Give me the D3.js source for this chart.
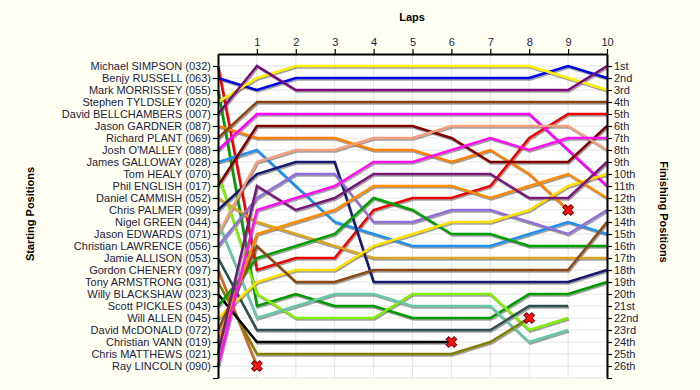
<!DOCTYPE html>
<html><head><meta charset="utf-8">
<script src="https://cdn.jsdelivr.net/npm/d3@7"></script>
<style>
html,body{margin:0;padding:0;background:#FFFFF2;}
svg{display:block;font-family:"Liberation Sans",Arial,sans-serif;}
</style></head><body>
<svg id="c" width="700" height="390"></svg>
<script>
// ---- data ----
const drivers = [
  "Michael SIMPSON (032)","Benjy RUSSELL (063)","Mark MORRISSEY (055)","Stephen TYLDSLEY (020)",
  "David BELLCHAMBERS (007)","Jason GARDNER (087)","Richard PLANT (069)","Josh O'MALLEY (088)",
  "James GALLOWAY (028)","Tom HEALY (070)","Phil ENGLISH (017)","Daniel CAMMISH (052)",
  "Chris PALMER (099)","Nigel GREEN (044)","Jason EDWARDS (071)","Christian LAWRENCE (056)",
  "Jamie ALLISON (053)","Gordon CHENERY (097)","Tony ARMSTRONG (031)","Willy BLACKSHAW (023)",
  "Scott PICKLES (043)","Will ALLEN (045)","David McDONALD (072)","Christian VANN (019)",
  "Chris MATTHEWS (021)","Ray LINCOLN (090)"
];
const lapTicks = [1,2,3,4,5,6,7,8,9,10];
const finishLabels = ["1st","2nd","3rd","4th","5th","6th","7th","8th","9th","10th","11th","12th","13th",
  "14th","15th","16th","17th","18th","19th","20th","21st","22nd","23rd","24th","25th","26th"];
// position of each driver at lap 0..n (start position first)
const positions = [
  [1,18,17,17,13,12,12,11,7,5,5],
  [2,3,2,2,2,2,2,2,2,1,2],
  [3,21,20,21,21,22,22,22,20,20,19],
  [4,2,1,1,1,1,1,1,1,2,3],
  [5,1,3,3,3,3,3,3,3,3,1],
  [6,7,7,7,8,8,9,8,10,13],
  [7,4,4,4,4,4,4,4,4,4,4],
  [8,5,5,5,5,5,5,5,5,8,11],
  [9,8,11,14,15,16,16,16,15,14,15],
  [10,20,22,22,22,20,20,20,23,22],
  [11,6,6,6,6,6,7,9,9,9,6],
  [12,14,15,16,17,17,17,17,17,17,17],
  [13,10,9,9,19,19,19,19,19,19,18],
  [14,22,21,20,20,21,21,21,24,23],
  [15,9,8,8,7,7,6,6,6,6,8],
  [16,12,10,10,14,14,13,13,14,15,13],
  [17,23,23,23,23,23,23,23,21,21],
  [18,26],
  [19,25,25,25,25,25,25,24,22],
  [20,24,24,24,24,24,24],
  [21,17,16,15,12,13,15,15,16,16,16],
  [22,19,18,18,16,15,14,14,13,11,10],
  [23,16,19,19,18,18,18,18,18,18,14],
  [24,15,14,13,11,11,11,12,11,10,12],
  [25,11,13,12,10,10,10,10,12,12,9],
  [26,13,12,11,9,9,8,7,8,7,7]
];
// drivers retired (marker at their last point)
const retired = ["Jason GARDNER (087)","Gordon CHENERY (097)","Willy BLACKSHAW (023)","Tony ARMSTRONG (031)"];
const colors = ["#EE0000","#0000E6","#009A00","#FFEE00","#7A0A7A","#FF8000","#8B4513","#FF00FF",
  "#2090F0","#80F000","#800000","#DAA520","#1A1A70","#66C8A8","#F4A07C","#9070D8",
  "#2F4F4F","#D2691E","#808000","#000000","#00A000","#FFE000","#8B4A13","#FF8C00",
  "#781878","#FF10F0"];

// ---- chart ----
const svg = d3.select("#c");
const x = d3.scaleLinear().domain([0,10]).range([218,607]);
const y = d3.scaleLinear().domain([0,27]).range([54,378]);

svg.append("rect").attr("x",x(0)).attr("y",y(0)).attr("width",x(10)-x(0)).attr("height",y(27)-y(0)).attr("fill","#ffffff");

const grid = svg.append("g").attr("stroke","#e4e4e4").attr("stroke-width",1);
grid.selectAll("line.h").data(d3.range(1,28)).join("line")
  .attr("x1",x(0)).attr("x2",x(10)).attr("y1",d=>y(d)).attr("y2",d=>y(d));
grid.selectAll("line.v").data(lapTicks).join("line")
  .attr("y1",y(0)).attr("y2",y(27)).attr("x1",d=>x(d)).attr("x2",d=>x(d));

const line = d3.line().x((d,i)=>x(i)).y(d=>y(d));
const shadows = svg.append("g").attr("transform","translate(1,1.5)");
const lines = svg.append("g");
positions.forEach((p,i)=>{
  shadows.append("path").attr("d",line(p)).attr("fill","none").attr("stroke","#555").attr("stroke-opacity",0.55).attr("stroke-width",2.5);
});
positions.forEach((p,i)=>{
  lines.append("path").attr("d",line(p)).attr("fill","none").attr("stroke",colors[i]).attr("stroke-width",2.5);
});

// retirement markers
const xSym = d3.symbol().type(d3.symbolCross).size(70);
retired.forEach(name=>{
  const i = drivers.indexOf(name); const p = positions[i];
  svg.append("path").attr("d",xSym())
    .attr("transform",`translate(${x(p.length-1)},${y(p[p.length-1])}) rotate(45)`)
    .attr("fill","#FF1010").attr("stroke","#700000").attr("stroke-width",1);
});

// axes
const axisStyle = g=>{
  g.selectAll("path.domain").attr("stroke","#000").attr("stroke-width",2);
  g.selectAll(".tick line").attr("stroke","#000").attr("stroke-width",1.2);
  g.selectAll("text").attr("fill","#1c1c3c").attr("font-size",11).attr("font-family","'Liberation Sans',Arial,sans-serif");
};
svg.append("g").attr("transform",`translate(${x(0)},0)`)
  .call(d3.axisLeft(y).tickValues(d3.range(1,28)).tickSize(5).tickSizeOuter(0).tickPadding(2)
    .tickFormat(d=>drivers[d-1]||"")).call(axisStyle);
svg.append("g").attr("transform",`translate(${x(10)},0)`)
  .call(d3.axisRight(y).tickValues(d3.range(1,28)).tickSize(5).tickSizeOuter(0).tickPadding(2)
    .tickFormat(d=>finishLabels[d-1]||"")).call(axisStyle);
svg.append("g").attr("transform",`translate(0,${y(0)})`)
  .call(d3.axisTop(x).tickValues(lapTicks).tickSize(5).tickSizeOuter(0).tickPadding(3)).call(axisStyle);

// titles
svg.append("text").attr("x",412).attr("y",21).attr("text-anchor","middle")
  .attr("font-weight","bold").attr("font-size",11).attr("fill","#000").text("Laps");
svg.append("text").attr("transform","translate(34,214) rotate(-90)").attr("text-anchor","middle")
  .attr("font-weight","bold").attr("font-size",11).attr("fill","#000").text("Starting Positions");
svg.append("text").attr("transform","translate(660,212) rotate(90)").attr("text-anchor","middle")
  .attr("font-weight","bold").attr("font-size",11).attr("fill","#000").text("Finishing Positions");
</script></body></html>
